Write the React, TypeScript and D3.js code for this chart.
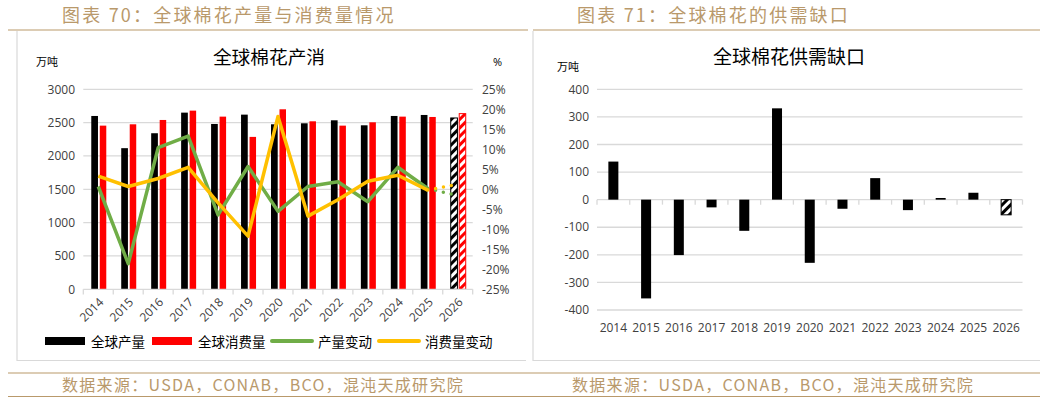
import React, { useEffect, useRef } from 'react'
import * as d3 from 'd3'

const years = ['2014', '2015', '2016', '2017', '2018', '2019', '2020', '2021', '2022', '2023', '2024', '2025', '2026']
const production = [2600, 2117, 2341, 2650, 2480, 2620, 2475, 2490, 2535, 2460, 2600, 2615, 2570]
const consumption = [2455, 2475, 2540, 2680, 2590, 2286, 2700, 2520, 2455, 2505, 2590, 2585, 2635]
const prodChange = [0.7, -18.6, 10.4, 13.3, -6.4, 5.7, -5.5, 0.7, 1.9, -3.1, 5.5, 0.2, -1.6]
const consChange = [3.3, 0.7, 2.7, 5.5, -3.4, -11.7, 18.2, -6.7, -2.6, 2.0, 3.5, -0.2, 1.3]
const gap = [138, -358, -201, -28, -113, 331, -229, -33, 78, -38, 6, 25, -55]

const leftTicks = [0, 500, 1000, 1500, 2000, 2500, 3000]
const pctTicks = [-25, -20, -15, -10, -5, 0, 5, 10, 15, 20, 25]
const gapTicks = [-400, -300, -200, -100, 0, 100, 200, 300, 400]

const GOLD = '#b9996b'
const GRID = '#d9d9d9'
const LABEL = '#404040'
const CJK = '"Noto Sans CJK SC", "Noto Sans", sans-serif'
const NUM = '"Open Sans", "Noto Sans", sans-serif'

export default function App() {
    const ref = useRef<SVGSVGElement | null>(null)

    function draw() {
        const svg = d3.select(ref.current)
        svg.selectAll('*').remove()

        // hatch patterns for 2026 estimates
        const defs = svg.append('defs')
        const hatch = (id: string, color: string) => {
            const p = defs.append('pattern')
                .attr('id', id)
                .attr('patternUnits', 'userSpaceOnUse')
                .attr('width', 6).attr('height', 6)
                .attr('patternTransform', 'rotate(45)')
            p.append('rect').attr('width', 6).attr('height', 6).attr('fill', '#fff')
            p.append('rect').attr('width', 3).attr('height', 6).attr('fill', color)
        }
        hatch('hatchBlack', '#000')
        hatch('hatchRed', '#ff0000')

        // headers, frames, footer
        const headers = [
            { x: 62, text: '图表 70：全球棉花产量与消费量情况', x0: 8, x1: 528 },
            { x: 577, text: '图表 71：全球棉花的供需缺口', x0: 533, x1: 1040 },
        ]
        headers.forEach(h => {
            svg.append('text').attr('x', h.x).attr('y', 22)
                .attr('font-family', CJK).attr('font-size', 18).attr('letter-spacing', 2.2)
                .attr('fill', GOLD)
                .text(h.text)
            svg.append('line').attr('x1', h.x0).attr('x2', h.x1).attr('y1', 30).attr('y2', 30)
                .attr('stroke', GOLD).attr('stroke-width', 1.2)
        })
        const frames = [[17, 526], [533, 1040]]
        frames.forEach(([a, b]) => {
            svg.append('path').attr('d', `M${a},31V360.5H${b}`)
                .attr('fill', 'none').attr('stroke', GRID).attr('stroke-width', 1.2)
        })
        svg.append('line').attr('x1', 8).attr('x2', 1040).attr('y1', 373).attr('y2', 373)
            .attr('stroke', GOLD).attr('stroke-width', 1.2)
        svg.append('line').attr('x1', 8).attr('x2', 1040).attr('y1', 396.5).attr('y2', 396.5)
            .attr('stroke', GOLD).attr('stroke-width', 1.2)
        ;[62, 572].forEach(x => {
            svg.append('text').attr('x', x).attr('y', 391)
                .attr('font-family', CJK).attr('font-size', 16).attr('letter-spacing', 1.3)
                .attr('fill', GOLD)
                .text('数据来源：USDA，CONAB，BCO，混沌天成研究院')
        })

        // ---------- left chart ----------
        const x = d3.scaleBand<string>().domain(years).range([83.3, 472.7])
        const y = d3.scaleLinear().domain([0, 3000]).range([289.3, 89.3])
        const yp = d3.scaleLinear().domain([-25, 25]).range([289.3, 89.3])
        const cx = (i: number) => (x(years[i]) as number) + x.bandwidth() / 2
        const L = svg.append('g')

        L.append('text').attr('x', 269).attr('y', 64).attr('text-anchor', 'middle')
            .attr('font-family', CJK).attr('font-size', 18.7).attr('fill', '#000')
            .text('全球棉花产消')
        L.append('text').attr('x', 36).attr('y', 66)
            .attr('font-family', CJK).attr('font-size', 11).attr('fill', '#000').text('万吨')
        L.append('text').attr('x', 493).attr('y', 66)
            .attr('font-family', NUM).attr('font-size', 11).attr('fill', '#000').text('%')

        L.selectAll('.grid').data(leftTicks.slice(1)).enter().append('line')
            .attr('x1', 83.3).attr('x2', 472.7)
            .attr('y1', d => y(d)).attr('y2', d => y(d))
            .attr('stroke', GRID).attr('stroke-width', 1.3)
        L.selectAll('.yl').data(leftTicks).enter().append('text')
            .attr('x', 75).attr('y', d => y(d)).attr('dy', '0.35em').attr('text-anchor', 'end')
            .attr('font-family', NUM).attr('font-size', 12).attr('fill', LABEL)
            .text(d => d)
        L.selectAll('.yr').data(pctTicks).enter().append('text')
            .attr('x', 482).attr('y', d => yp(d)).attr('dy', '0.35em')
            .attr('font-family', NUM).attr('font-size', 12).attr('fill', LABEL)
            .text(d => d + '%')

        const last = years.length - 1
        L.selectAll('.bp').data(production).enter().append('rect')
            .attr('x', (d, i) => cx(i) - 7).attr('width', 6.7)
            .attr('y', d => y(d)).attr('height', d => y(0) - y(d))
            .attr('fill', (d, i) => i === last ? 'url(#hatchBlack)' : '#000')
            .attr('stroke', (d, i) => i === last ? '#000' : 'none').attr('stroke-width', 1)
        L.selectAll('.bc').data(consumption).enter().append('rect')
            .attr('x', (d, i) => cx(i) + 1.5).attr('width', 6.5)
            .attr('y', d => y(d)).attr('height', d => y(0) - y(d))
            .attr('fill', (d, i) => i === last ? 'url(#hatchRed)' : '#ff0000')
            .attr('stroke', (d, i) => i === last ? '#ff0000' : 'none').attr('stroke-width', 1)

        // x axis
        L.append('line').attr('x1', 83.3).attr('x2', 472.7).attr('y1', 289.3).attr('y2', 289.3)
            .attr('stroke', GRID).attr('stroke-width', 1.3)
        L.selectAll('.tk').data(d3.range(years.length + 1)).enter().append('line')
            .attr('x1', i => 83.3 + i * x.step()).attr('x2', i => 83.3 + i * x.step())
            .attr('y1', 289.3).attr('y2', 294.5).attr('stroke', GRID).attr('stroke-width', 1.3)
        L.selectAll('.xl').data(years).enter().append('text')
            .attr('transform', (d, i) => `translate(${cx(i) + 3},${300}) rotate(-45)`)
            .attr('text-anchor', 'end').attr('dy', '0.35em')
            .attr('font-family', NUM).attr('font-size', 12).attr('fill', LABEL)
            .text(d => d)

        // change lines
        const line = d3.line<number>().x((d, i) => cx(i)).y(d => yp(d))
        const series = [
            { data: prodChange, color: '#70ad47' },
            { data: consChange, color: '#ffc000' },
        ]
        series.forEach(s => {
            L.append('path').attr('d', line(s.data.slice(0, last)))
                .attr('fill', 'none').attr('stroke', s.color).attr('stroke-width', 3.5)
                .attr('stroke-linejoin', 'round')
            const tail = d3.line<number>().x((d, i) => cx(last - 1 + i)).y(d => yp(d))
            L.append('path').attr('d', tail(s.data.slice(last - 1)))
                .attr('fill', 'none').attr('stroke', s.color).attr('stroke-width', 3.5)
                .attr('stroke-linecap', 'round').attr('stroke-dasharray', '0 8')
        })

        // legend
        const lg = L.append('g').attr('font-family', CJK).attr('font-size', 13.5).attr('fill', '#000')
        lg.append('rect').attr('x', 45).attr('y', 337).attr('width', 40).attr('height', 8).attr('fill', '#000')
        lg.append('text').attr('x', 91).attr('y', 346.5).text('全球产量')
        lg.append('rect').attr('x', 152).attr('y', 337).attr('width', 40).attr('height', 8).attr('fill', '#ff0000')
        lg.append('text').attr('x', 198).attr('y', 346.5).text('全球消费量')
        lg.append('line').attr('x1', 272).attr('x2', 312).attr('y1', 341).attr('y2', 341)
            .attr('stroke', '#70ad47').attr('stroke-width', 4).attr('stroke-linecap', 'round')
        lg.append('text').attr('x', 318).attr('y', 346.5).text('产量变动')
        lg.append('line').attr('x1', 379).attr('x2', 419).attr('y1', 341).attr('y2', 341)
            .attr('stroke', '#ffc000').attr('stroke-width', 4).attr('stroke-linecap', 'round')
        lg.append('text').attr('x', 425).attr('y', 346.5).text('消费量变动')

        // ---------- right chart ----------
        const x2 = d3.scaleBand<string>().domain(years).range([597, 1022.5])
        const y2 = d3.scaleLinear().domain([-400, 400]).range([310, 89.3])
        const cx2 = (i: number) => (x2(years[i]) as number) + x2.bandwidth() / 2
        const R = svg.append('g')

        R.append('text').attr('x', 789).attr('y', 64).attr('text-anchor', 'middle')
            .attr('font-family', CJK).attr('font-size', 19).attr('fill', '#000')
            .text('全球棉花供需缺口')
        R.append('text').attr('x', 557).attr('y', 71)
            .attr('font-family', CJK).attr('font-size', 11).attr('fill', '#000').text('万吨')

        R.selectAll('.grid').data(gapTicks).enter().append('line')
            .attr('x1', 597).attr('x2', 1022.5)
            .attr('y1', d => y2(d)).attr('y2', d => y2(d))
            .attr('stroke', GRID).attr('stroke-width', 1.3)
        R.selectAll('.tk').data(d3.range(years.length + 1)).enter().append('line')
            .attr('x1', i => 597 + i * x2.step()).attr('x2', i => 597 + i * x2.step())
            .attr('y1', y2(0)).attr('y2', y2(0) + 5).attr('stroke', GRID).attr('stroke-width', 1.3)
        R.selectAll('.yl').data(gapTicks).enter().append('text')
            .attr('x', 589).attr('y', d => y2(d)).attr('dy', '0.35em').attr('text-anchor', 'end')
            .attr('font-family', NUM).attr('font-size', 12).attr('fill', LABEL)
            .text(d => d)
        R.selectAll('.xl').data(years).enter().append('text')
            .attr('x', (d, i) => cx2(i)).attr('y', 332).attr('text-anchor', 'middle')
            .attr('font-family', NUM).attr('font-size', 12).attr('fill', LABEL)
            .text(d => d)
        R.selectAll('.bar').data(gap).enter().append('rect')
            .attr('x', (d, i) => cx2(i) - 5).attr('width', 10)
            .attr('y', d => y2(Math.max(0, d))).attr('height', d => Math.abs(y2(d) - y2(0)))
            .attr('fill', (d, i) => i === last ? 'url(#hatchBlack)' : '#000')
            .attr('stroke', (d, i) => i === last ? '#000' : 'none').attr('stroke-width', 1)
    }

    useEffect(() => {
        draw()
    }, [])

    return (
        <div>
            <svg ref={ref} width={1048} height={398}
                style={{ position: 'absolute', left: 0, top: 0, background: '#fff' }} />
        </div>
    )
}
